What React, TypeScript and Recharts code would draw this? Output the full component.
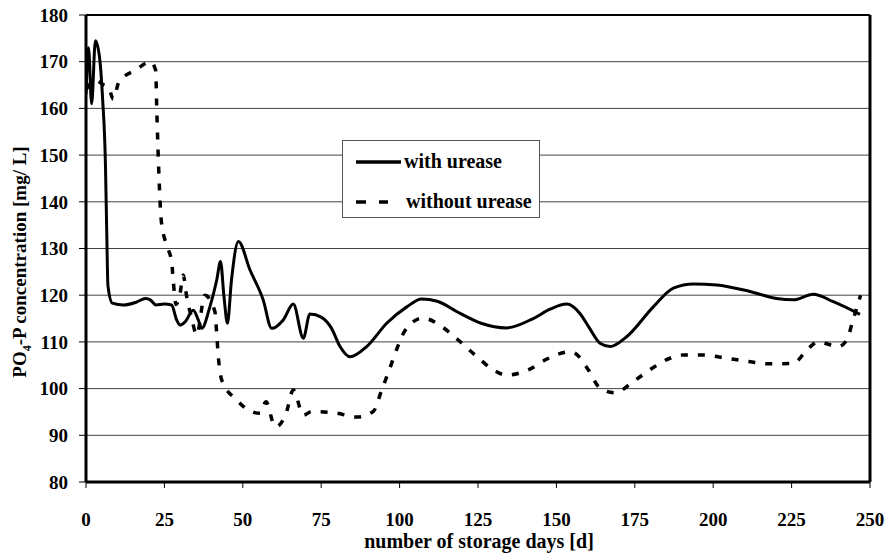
import { LineChart, Line, XAxis, YAxis, CartesianGrid, ReferenceLine, Legend } from 'recharts';

// storage day / PO4-P readings
const withDays = [
  0, 0.8, 1.8, 3, 4.3, 5.3, 6.2, 6.6, 7, 8.4, 12, 16, 19, 20.5, 22.3, 25, 27.3, 28.9, 30, 31.6,
  34.2, 35.8, 36.9, 39.5, 41.7, 42.9, 44, 45.1, 46.4, 48.6, 52.3, 56.5, 59.2, 62.9, 66.1, 69.3,
  71.4, 75, 78.3, 81, 84.2, 89.5, 95.9, 102.3, 107, 112, 119.3, 126, 134.1, 142.6, 148, 153.3,
  157.5, 160.5, 163.9, 167.1, 172.4, 180.9, 187.3, 193.7, 201.1, 211.7, 220.2, 225.5, 231.9,
  238.3, 246.8,
];
const withValues = [
  163, 173, 161, 174.5, 171, 162, 148, 134, 122, 118.3, 117.9, 118.5, 119.3, 119, 117.9, 118.1,
  117.9, 114.7, 113.6, 114.3, 116.8, 114.7, 112.9, 117.5, 123.3, 127.2, 119.7, 114, 123.3, 131.5,
  125.4, 119, 112.9, 114.7, 118.1, 110.8, 116, 115.3, 112.9, 109, 106.8, 109, 114, 117.5, 119.2,
  118.7, 116.1, 114, 113, 115, 117, 118.1, 116.1, 113, 109.7, 109, 111.1, 117.5, 121.5, 122.4,
  122.2, 120.8, 119.3, 119, 120.2, 118.6, 115.9,
];

const withoutDays = [
  0, 3, 5.7, 7.3, 8.7, 10.5, 15.8, 20.6, 22.2, 22.6, 23.3, 24, 25.7, 27.3, 27.9, 28.7, 30, 31,
  32.1, 33.7, 35.3, 37.9, 41.1, 41.7, 42.2, 43.3, 48, 51.8, 55.5, 57.4, 59.7, 60.5, 63.8, 66.1,
  69.3, 72, 79.4, 86.3, 91.6, 94.3, 96.7, 99, 101.7, 107.4, 113.4, 118.7, 124.4, 129.9, 134.1,
  141, 146.9, 154.3, 155.9, 160.2, 163.9, 168.7, 174.5, 180.4, 186.2, 190.5, 196.8, 204.3,
  211.2, 218.1, 225.5, 230.3, 233.5, 239.9, 242.6, 244.5, 247,
];
const withoutValues = [
  164, 166, 165, 164.3, 162, 165.7, 168.2, 170, 168.2, 159, 145, 136, 130.7, 127.2, 122.5, 118,
  120.4, 124.3, 119.7, 115.1, 111.5, 120, 116.5, 111.5, 106.8, 101.8, 97.6, 95.4, 94.7, 97.2,
  92.6, 91.8, 94.7, 99.7, 94.3, 95.1, 94.8, 93.9, 95.1, 99.7, 104, 108.3, 112.4, 115.1, 113.3,
  110.4, 107, 104, 102.9, 104, 106.3, 107.9, 107.6, 104, 100.1, 99.1, 101.5, 104.3, 106.5, 107.2,
  107.2, 106.5, 105.8, 105.3, 105.4, 108.6, 110, 109, 110.4, 114.5, 120,
];

const xTicks = [0, 25, 50, 75, 100, 125, 150, 175, 200, 225, 250];
const yTicks = [80, 90, 100, 110, 120, 130, 140, 150, 160, 170, 180];

const withUrease = withDays.map((d, i) => ({ day: d, v: withValues[i] }));
const withoutUrease = withoutDays.map((d, i) => ({ day: d, v: withoutValues[i] }));

const FONT = '"Liberation Serif", "Times New Roman", serif';
const tickStyle = { fontSize: 19, fill: '#000', fontWeight: 700, fontFamily: FONT };

function LegendBox() {
  return (
    <div
      style={{
        width: 198,
        height: 78,
        boxSizing: 'border-box',
        border: '1px solid #555',
        background: '#fff',
        position: 'relative',
        fontFamily: FONT,
        fontWeight: 700,
        fontSize: 20,
        color: '#000',
      }}
    >
      <svg width={60} height={78} style={{ position: 'absolute', left: 0, top: 0 }}>
        <line x1={13} x2={58} y1={21} y2={21} stroke="#000" strokeWidth={3.5} />
        <line x1={13} x2={45} y1={61} y2={61} stroke="#000" strokeWidth={3.5} strokeDasharray="10 13" />
      </svg>
      <div style={{ position: 'absolute', left: 61, top: 9, lineHeight: '22px', whiteSpace: 'nowrap' }}>with urease</div>
      <div style={{ position: 'absolute', left: 63, top: 49, lineHeight: '22px', whiteSpace: 'nowrap' }}>without urease</div>
    </div>
  );
}

export default function App() {
  return (
    <div style={{ position: 'relative', width: 886, height: 554, background: '#fff', color: '#000' }}>
      <style>{'body{margin:0}'}</style>
      <LineChart width={886} height={554} margin={{ top: 15, right: 16, bottom: 22, left: 0 }}>
        <CartesianGrid vertical={false} stroke="#444" />
        <XAxis
          type="number"
          dataKey="day"
          domain={[0, 250]}
          ticks={xTicks}
          height={50}
          tickSize={6}
          tickMargin={25}
          tick={tickStyle}
          axisLine={{ stroke: '#000', strokeWidth: 3 }}
          tickLine={{ stroke: '#000' }}
          allowDataOverflow
        />
        <YAxis
          type="number"
          domain={[80, 180]}
          ticks={yTicks}
          width={86}
          tickSize={7}
          tickMargin={11}
          tick={tickStyle}
          axisLine={{ stroke: '#000', strokeWidth: 3 }}
          tickLine={{ stroke: '#000' }}
          allowDataOverflow
        />
        <ReferenceLine y={180} stroke="#000" strokeWidth={2} />
        <ReferenceLine x={250} stroke="#000" strokeWidth={3} />
        <Line
          data={withUrease}
          dataKey="v"
          type="monotone"
          stroke="#000"
          strokeWidth={3}
          dot={false}
          activeDot={false}
          name="with urease"
          isAnimationActive={false}
        />
        <Line
          data={withoutUrease}
          dataKey="v"
          type="monotone"
          stroke="#000"
          strokeWidth={3.5}
          strokeDasharray="7 10"
          dot={false}
          activeDot={false}
          name="without urease"
          isAnimationActive={false}
        />
        <Legend
          layout="vertical"
          align="center"
          verticalAlign="middle"
          content={() => <LegendBox />}
          wrapperStyle={{ left: 342, top: 140, width: 198, height: 78 }}
        />
      </LineChart>
      <div
        style={{
          position: 'absolute',
          left: 22,
          top: 262,
          transform: 'translate(-50%, -50%) rotate(-90deg)',
          whiteSpace: 'nowrap',
          fontFamily: FONT,
          fontWeight: 700,
          fontSize: 19,
          color: '#000',
        }}
      >
        PO<sub style={{ fontSize: 12 }}>4</sub>-P concentration [mg/ L]
      </div>
      <div
        style={{
          position: 'absolute',
          left: 479,
          top: 541,
          transform: 'translate(-50%, -50%)',
          whiteSpace: 'nowrap',
          fontFamily: FONT,
          fontWeight: 700,
          fontSize: 20,
          color: '#000',
        }}
      >
        number of storage days [d]
      </div>
    </div>
  );
}
